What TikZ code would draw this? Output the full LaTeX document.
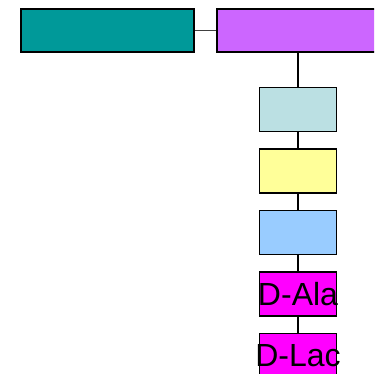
\documentclass[tikz,border=0pt]{standalone}
\usepackage{fontspec}
\setmainfont{Liberation Sans}
\usepackage{xcolor}
\usepackage{tikz}
\usetikzlibrary{positioning,calc}

\definecolor{tealbox}{HTML}{009999}
\definecolor{violetbox}{HTML}{CC66FF}
\definecolor{paleblue}{HTML}{BBE0E3}
\definecolor{paleyellow}{HTML}{FFFF99}
\definecolor{skyblue}{HTML}{99CCFF}
\definecolor{pinkbox}{HTML}{FF00FF}

\begin{document}
\begin{tikzpicture}[
    x=1pt, y=-1pt,
    box/.style={rectangle, draw, line width=1.1pt, inner sep=0pt},
    wide/.style={box, minimum width=173pt, minimum height=43pt},
    small/.style={box, minimum width=77pt, minimum height=44pt},
    lbl/.style={font=\fontsize{32}{32}\selectfont},
    link/.style={line width=1.1pt, xshift=-3pt}
]
    \useasboundingbox (0,0) rectangle (374,374);
    \clip (0,0) rectangle (374,374);

    % Top row
    \node[wide, fill=tealbox] (teal) at (107.5,30.5) {};
    \node[wide, fill=violetbox] (violet) at (303.5,30.5) {};
    \draw[line width=0.9pt, black!75] (teal.east) -- (violet.west);

    % Column of small boxes
    \foreach \c/\t [count=\i] in {paleblue/{}, paleyellow/{}, skyblue/{}, pinkbox/D-Ala, pinkbox/D-Lac} {
        \node[small, fill=\c, label={[lbl]center:\t}] (b\i) at (298, 109.5+61.5*\i-61.5) {};
    }

    % Links
    \draw[link] (b1.north) -- (b1.north |- violet.south);
    \foreach \i [evaluate=\i as \j using int(\i+1)] in {1,...,4} {
        \draw[link] (b\i.south) -- (b\j.north);
    }
\end{tikzpicture}
\end{document}
